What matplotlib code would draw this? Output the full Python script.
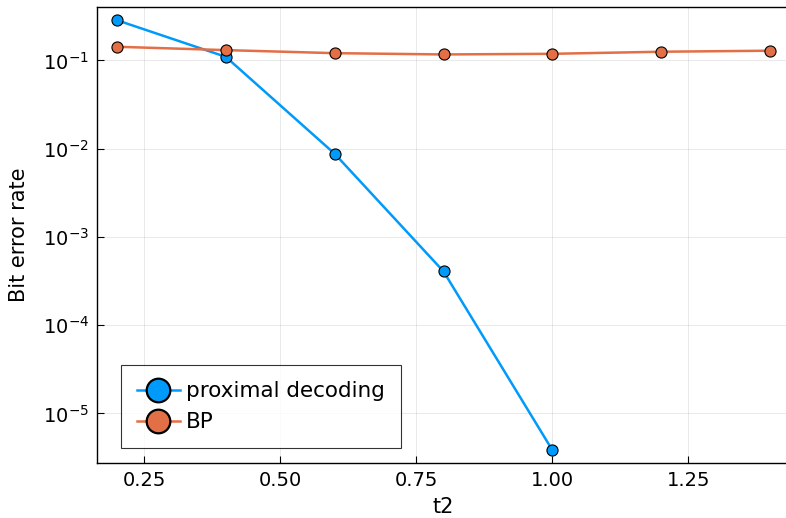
import matplotlib
matplotlib.use("Agg")
import matplotlib.pyplot as plt
from matplotlib.lines import Line2D
from matplotlib.ticker import NullLocator, FixedLocator
import numpy as np

t2_prox = [0.2, 0.4, 0.6, 0.8, 1.0]
ber_prox = [0.286, 0.110, 0.00877, 4.07e-4, 3.84e-6]
t2_bp = [0.2, 0.4, 0.6, 0.8, 1.0, 1.2, 1.4]
ber_bp = [0.143, 0.131, 0.121, 0.117, 0.119, 0.1256, 0.129]
xticks = [0.25, 0.50, 0.75, 1.00, 1.25]
xtick_labels = ["0.25", "0.50", "0.75", "1.00", "1.25"]
labels = ["proximal decoding", "BP"]

blue = "#009AFA"
orange = "#E26F46"

fig = plt.figure(figsize=(7.86, 5.18), dpi=100)
ax = fig.add_axes([97.3/786, 1-463/518, (789.7-97.3)/786, (463-7.3)/518])

ax.plot(t2_prox, ber_prox, color=blue, lw=1.8, marker="o", ms=8,
        mfc=blue, mec="black", mew=0.8, zorder=3)
ax.plot(t2_bp, ber_bp, color=orange, lw=1.8, marker="o", ms=8,
        mfc=orange, mec="black", mew=0.8, zorder=3)

ax.set_yscale("log")
xs = t2_prox + t2_bp
xmin, xmax = min(xs), max(xs)
m = 0.03 * (xmax - xmin)
ax.set_xlim(xmin - m, xmax + m)
ly = np.log10(ber_prox + ber_bp)
lm = 0.03 * (ly.max() - ly.min())
ax.set_ylim(10**(ly.min() - lm), 10**(ly.max() + lm))

ax.set_xticks(xticks)
ax.set_xticklabels(xtick_labels)
ax.yaxis.set_major_locator(FixedLocator([1e-5, 1e-4, 1e-3, 1e-2, 1e-1]))
ax.yaxis.set_minor_locator(NullLocator())
ax.xaxis.set_minor_locator(NullLocator())
ax.tick_params(direction="in", length=5, width=0.8, labelsize=14, pad=6)

ax.grid(True, color="black", alpha=0.1, lw=0.6)
ax.set_axisbelow(True)
for s in ax.spines.values():
    s.set_linewidth(1.0)
ax.spines["right"].set_visible(False)

ax.set_xlabel("t2", fontsize=15, labelpad=5)
ax.set_ylabel("Bit error rate", fontsize=15, labelpad=10)

handles = [
    Line2D([], [], color=blue, lw=1.8, marker="o", ms=17, mfc=blue, mec="black", mew=1.6),
    Line2D([], [], color=orange, lw=1.8, marker="o", ms=17, mfc=orange, mec="black", mew=1.6),
]
leg = ax.legend(handles, labels, loc="lower left",
                bbox_to_anchor=(120.7/786, 1-448.3/518),
                bbox_transform=fig.transFigure, fontsize=15.5, frameon=True,
                fancybox=False, edgecolor="black", handlelength=2.0,
                handletextpad=0.3, borderpad=0.75, labelspacing=0.5,
                borderaxespad=0)
leg.get_frame().set_linewidth(0.8)

fig.savefig("out.png", dpi=100)
